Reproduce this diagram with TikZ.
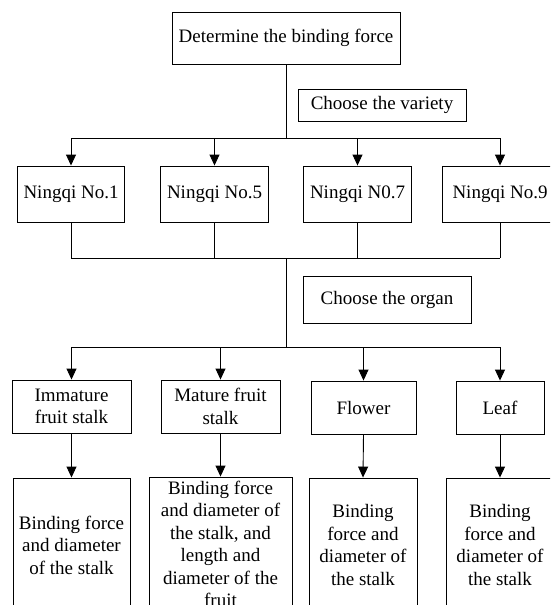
\documentclass[tikz,border=0pt]{standalone}
\usepackage{fontspec}
\setmainfont{Liberation Serif}
\usetikzlibrary{arrows.meta}
\begin{document}
\begin{tikzpicture}[x=1pt,y=-1pt,
  box/.style={draw=black,line width=0.9pt,inner sep=0pt,align=center,font=\fontsize{19}{22.5}\selectfont},
  conn/.style={draw=black,line width=0.9pt},
  arr/.style={conn,-{Triangle[width=10pt,length=11pt]}}]
\useasboundingbox (0,0) rectangle (550,605);
\clip (0,0) rectangle (550,605);
\fill[white] (0,0) rectangle (550,605);
% level 0
\node[box,minimum width=228,minimum height=52] (top) at (286,38) {Determine the binding force};
\node[box,minimum width=168,minimum height=32] (var) at (382,105) {Choose the variety};
% varieties
\node[box,minimum width=107,minimum height=56] (n1) at (71,194) {Ningqi No.1};
\node[box,minimum width=108,minimum height=56] (n2) at (214.5,194) {Ningqi No.5};
\node[box,minimum width=108,minimum height=56] (n3) at (357.5,194) {Ningqi N0.7};
\node[box,minimum width=116,minimum height=56] (n4) at (500,194) {Ningqi No.9};
% organ label
\node[box,minimum width=168,minimum height=47] (org) at (387,299.5) {Choose the organ};
% organs
\node[box,minimum width=119,minimum height=53] (o1) at (71.5,406.5) {Immature\\fruit stalk};
\node[box,minimum width=119,minimum height=53] (o2) at (220.5,406.5) {Mature fruit\\stalk};
\node[box,minimum width=105,minimum height=53] (o3) at (363.5,407.5) {Flower};
\node[box,minimum width=88,minimum height=53] (o4) at (500,407.5) {Leaf};
% results
\node[box,minimum width=117,minimum height=134] (b1) at (71.5,545) {Binding force\\and diameter\\of the stalk};
\node[box,minimum width=143,minimum height=134] (b2) at (220.5,544) {Binding force\\and diameter of\\the stalk, and\\length and\\diameter of the\\fruit};
\node[box,minimum width=108,minimum height=134] (b3) at (363,545) {Binding\\force and\\diameter of\\the stalk};
\node[box,minimum width=108,minimum height=134] (b4) at (500,545) {Binding\\force and\\diameter of\\the stalk};
% junctions
\coordinate (j1) at (286,138);
\coordinate (j2) at (286,258);
\coordinate (j3) at (286,347);
% connectors
\draw[conn] (top.south) -- (j1);
\draw[conn] (n1.north |- j1) -- (n4.north |- j1);
\foreach \n in {n1,n2,n3,n4} {
  \draw[arr] (\n.north |- j1) -- (\n.north);
  \draw[conn] (\n.south) -- (\n.south |- j2);
}
\draw[conn] (n1.south |- j2) -- (n4.south |- j2);
\draw[conn] (j2) -- (j3);
\draw[conn] (o1.north |- j3) -- (o4.north |- j3);
\foreach \n/\m in {o1/b1,o2/b2,o3/b3,o4/b4} {
  \draw[arr] (\n.north |- j3) -- (\n.north);
  \draw[arr] (\n.south) -- (\m.north);
}
\end{tikzpicture}
\end{document}
